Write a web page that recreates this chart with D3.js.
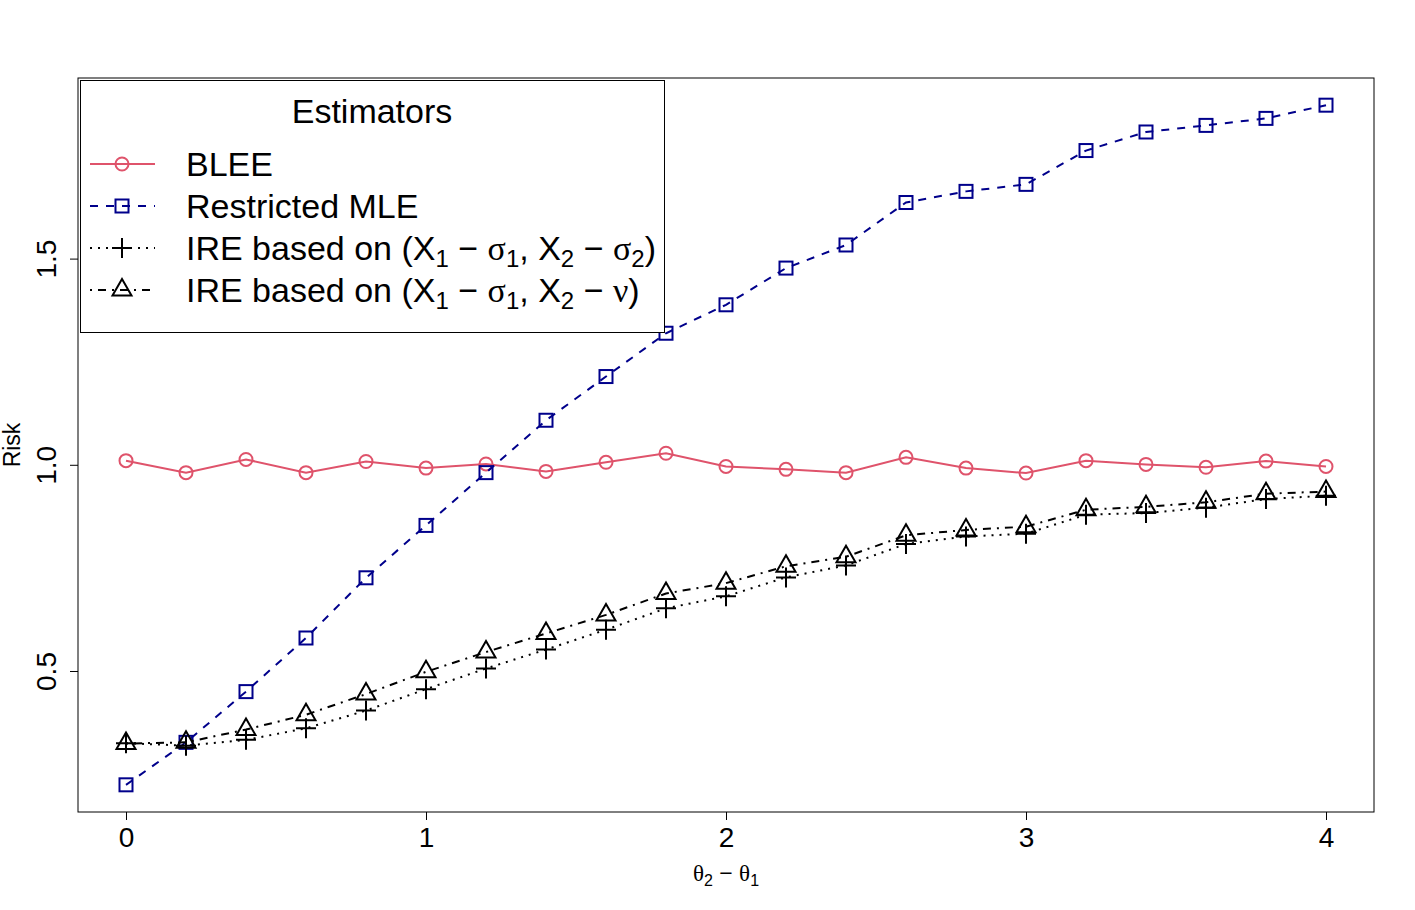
<!DOCTYPE html>
<html>
<head>
<meta charset="utf-8">
<script src="https://cdn.jsdelivr.net/npm/d3@7"></script>
<style>
  body { margin: 0; background: #fff; }
  svg { display: block; font-family: "Liberation Sans", Arial, sans-serif; }
</style>
</head>
<body>
<div id="chart"></div>
<script>
// theta2 - theta1 grid
const thetaDiff = [0, 0.2, 0.4, 0.6, 0.8, 1.0, 1.2, 1.4, 1.6, 1.8, 2.0,
                   2.2, 2.4, 2.6, 2.8, 3.0, 3.2, 3.4, 3.6, 3.8, 4.0];

// risk values
const bleeRisk = [1.010, 0.981, 1.013, 0.981, 1.008, 0.992, 1.002, 0.984, 1.006, 1.028, 0.996,
                  0.989, 0.981, 1.018, 0.992, 0.980, 1.010, 1.001, 0.994, 1.009, 0.996];
const mleRisk = [0.224, 0.327, 0.450, 0.580, 0.726, 0.853, 0.981, 1.108, 1.214, 1.319, 1.388,
                 1.477, 1.533, 1.636, 1.663, 1.680, 1.762, 1.807, 1.823, 1.840, 1.872];
const ireSigmaRisk = [0.325, 0.319, 0.333, 0.361, 0.404, 0.456, 0.506, 0.552, 0.600, 0.652, 0.681,
                      0.727, 0.756, 0.808, 0.826, 0.833, 0.879, 0.883, 0.896, 0.917, 0.925];
const ireNuRisk = [0.324, 0.327, 0.358, 0.394, 0.444, 0.498, 0.546, 0.591, 0.636, 0.688, 0.713,
                   0.754, 0.777, 0.829, 0.842, 0.850, 0.891, 0.898, 0.909, 0.930, 0.935];

const xTicks = [0, 1, 2, 3, 4];
const yTicks = [0.5, 1.0, 1.5];

// legend labels as runs: [text, kind] where kind is '' (normal), 'sub' or 'greek'
const legendTitle = 'Estimators';
const legendLabels = [
    [['BLEE', '']],
    [['Restricted MLE', '']],
    [['IRE based on (X', ''], ['1', 'sub'], [' \u2212 ', ''], ['\u03c3', 'greek'], ['1', 'sub'],
     [', X', ''], ['2', 'sub'], [' \u2212 ', ''], ['\u03c3', 'greek'], ['2', 'sub'], [')', '']],
    [['IRE based on (X', ''], ['1', 'sub'], [' \u2212 ', ''], ['\u03c3', 'greek'], ['1', 'sub'],
     [', X', ''], ['2', 'sub'], [' \u2212 ', ''], ['\u03bd', 'greek'], [')', '']]
];

class RiskChart {
    constructor(_config) {
        this.config = {
            parentElement: _config.parentElement,
            containerWidth: _config.containerWidth || 1415,
            containerHeight: _config.containerHeight || 910,
            margin: _config.margin || { top: 78, right: 41, bottom: 98, left: 78 }
        };
        this.series = [
            { values: bleeRisk, color: '#DF536B', dash: null, shape: 'circle' },
            { values: mleRisk, color: '#00008B', dash: '8,8', shape: 'square' },
            { values: ireSigmaRisk, color: '#000000', dash: '2,6', shape: 'plus' },
            { values: ireNuRisk, color: '#000000', dash: '2,6,8,6', shape: 'triangle' }
        ];
        this.initVis();
    }

    initVis() {
        let vis = this;
        vis.width = vis.config.containerWidth - vis.config.margin.left - vis.config.margin.right;
        vis.height = vis.config.containerHeight - vis.config.margin.top - vis.config.margin.bottom;

        vis.svg = d3.select(vis.config.parentElement)
            .append('svg')
            .attr('width', vis.config.containerWidth)
            .attr('height', vis.config.containerHeight);

        vis.chart = vis.svg.append('g')
            .attr('transform', `translate(${vis.config.margin.left},${vis.config.margin.top})`);

        // R style 4% padding on each side
        const xExt = d3.extent(thetaDiff);
        const xPad = (xExt[1] - xExt[0]) * 0.04;
        vis.xScale = d3.scaleLinear()
            .domain([xExt[0] - xPad, xExt[1] + xPad])
            .range([0, vis.width]);

        const yExt = d3.extent([...bleeRisk, ...mleRisk, ...ireSigmaRisk, ...ireNuRisk]);
        const yPad = (yExt[1] - yExt[0]) * 0.04;
        vis.yScale = d3.scaleLinear()
            .domain([yExt[0] - yPad, yExt[1] + yPad])
            .range([vis.height, 0]);

        vis.renderVis();
    }

    drawMark(g, shape, cx, cy, color) {
        if (shape === 'circle') {
            g.append('circle').attr('cx', cx).attr('cy', cy).attr('r', 6.5)
                .attr('fill', 'none').attr('stroke', color).attr('stroke-width', 2);
        } else if (shape === 'square') {
            g.append('rect').attr('x', cx - 6.5).attr('y', cy - 6.5)
                .attr('width', 13).attr('height', 13)
                .attr('fill', 'none').attr('stroke', color).attr('stroke-width', 2);
        } else if (shape === 'plus') {
            g.append('path')
                .attr('d', `M${cx - 10},${cy}H${cx + 10}M${cx},${cy - 10}V${cy + 10}`)
                .attr('fill', 'none').attr('stroke', color).attr('stroke-width', 2);
        } else {
            g.append('polygon')
                .attr('points', `${cx},${cy - 11} ${cx + 9.5},${cy + 5.5} ${cx - 9.5},${cy + 5.5}`)
                .attr('fill', 'none').attr('stroke', color).attr('stroke-width', 2);
        }
    }

    renderVis() {
        let vis = this;

        // axes
        const xAxis = d3.axisBottom(vis.xScale)
            .tickValues(xTicks).tickFormat(d3.format('d'))
            .tickSize(8).tickPadding(7).tickSizeOuter(0);
        const xAxisG = vis.chart.append('g')
            .attr('transform', `translate(0,${vis.height})`)
            .call(xAxis);
        xAxisG.select('.domain').remove();
        xAxisG.selectAll('line').attr('stroke', '#000');
        xAxisG.selectAll('text')
            .attr('font-size', 28).attr('fill', '#000')
            .attr('font-family', '"Liberation Sans", Arial, sans-serif');

        const yAxis = d3.axisLeft(vis.yScale)
            .tickValues(yTicks).tickFormat(d3.format('.1f'))
            .tickSize(8).tickSizeOuter(0);
        const yAxisG = vis.chart.append('g').call(yAxis);
        yAxisG.select('.domain').remove();
        yAxisG.selectAll('line').attr('stroke', '#000');
        yAxisG.selectAll('text')
            .attr('x', null).attr('dy', null)
            .attr('transform', 'translate(-22,0) rotate(-90)')
            .attr('text-anchor', 'middle')
            .attr('font-size', 28).attr('fill', '#000')
            .attr('font-family', '"Liberation Sans", Arial, sans-serif');

        // plot box
        vis.chart.append('rect')
            .attr('x', 0).attr('y', 0)
            .attr('width', vis.width).attr('height', vis.height)
            .attr('fill', 'none').attr('stroke', '#000').attr('stroke-width', 1);

        // axis titles
        vis.svg.append('text')
            .attr('transform', `translate(20,${vis.config.margin.top + vis.height / 2}) rotate(-90)`)
            .attr('text-anchor', 'middle')
            .attr('font-size', 23)
            .text('Risk');

        const xt = vis.svg.append('text')
            .attr('x', vis.config.margin.left + vis.xScale(2))
            .attr('y', 881)
            .attr('text-anchor', 'middle')
            .attr('font-size', 23);
        xt.append('tspan').attr('font-family', '"Liberation Serif", serif').text('\u03b8');
        xt.append('tspan').attr('font-size', 16).attr('dy', 5).text('2');
        xt.append('tspan').attr('dy', -5).text(' \u2212 ');
        xt.append('tspan').attr('font-family', '"Liberation Serif", serif').text('\u03b8');
        xt.append('tspan').attr('font-size', 16).attr('dy', 5).text('1');

        // series lines and points
        const line = d3.line()
            .x((d, i) => vis.xScale(thetaDiff[i]))
            .y(d => vis.yScale(d));

        vis.series.forEach(s => {
            vis.chart.append('path')
                .datum(s.values)
                .attr('d', line)
                .attr('fill', 'none')
                .attr('stroke', s.color)
                .attr('stroke-width', 2)
                .attr('stroke-dasharray', s.dash);
            const pg = vis.chart.append('g');
            s.values.forEach((v, i) => {
                vis.drawMark(pg, s.shape, vis.xScale(thetaDiff[i]), vis.yScale(v), s.color);
            });
        });

        // legend
        const legend = vis.svg.append('g').attr('class', 'legend');
        legend.append('rect')
            .attr('x', 80.5).attr('y', 80.5)
            .attr('width', 584).attr('height', 252)
            .attr('fill', '#fff').attr('stroke', '#000').attr('stroke-width', 1);
        legend.append('text')
            .attr('x', 372).attr('y', 123)
            .attr('text-anchor', 'middle')
            .attr('font-size', 34)
            .text(legendTitle);

        vis.series.forEach((s, i) => {
            const cy = 164 + i * 42;
            legend.append('line')
                .attr('x1', 90).attr('x2', 155)
                .attr('y1', cy).attr('y2', cy)
                .attr('stroke', s.color).attr('stroke-width', 2)
                .attr('stroke-dasharray', s.dash);
            vis.drawMark(legend, s.shape, 122, cy, s.color);

            const t = legend.append('text')
                .attr('x', 186).attr('y', cy + 12)
                .attr('font-size', 34);
            let shifted = false;
            legendLabels[i].forEach(([txt, kind]) => {
                const sp = t.append('tspan').text(txt);
                if (kind === 'sub') {
                    sp.attr('font-size', 24).attr('dy', shifted ? 0 : 7);
                    shifted = true;
                } else {
                    if (shifted) { sp.attr('dy', -7); shifted = false; }
                    if (kind === 'greek') sp.attr('font-family', '"Liberation Serif", serif');
                }
            });
        });
    }
}

new RiskChart({ parentElement: '#chart' });
</script>
</body>
</html>
